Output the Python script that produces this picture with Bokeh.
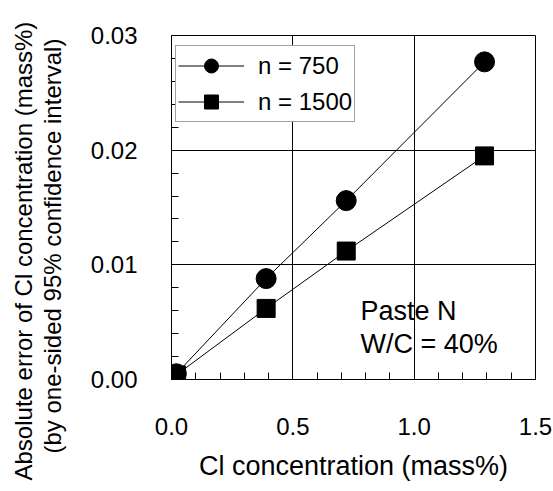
import numpy as np
from bokeh.plotting import figure
from bokeh.models import Range1d, FixedTicker, Label, Legend, LegendItem, Title
from bokeh.embed import file_html
from bokeh.resources import INLINE

# ---- data ----
cl_conc = [0.02, 0.39, 0.72, 1.29]
err_n750 = [0.0005, 0.0088, 0.0156, 0.0277]
err_n1500 = [0.0004, 0.0062, 0.0112, 0.0195]
series_labels = ["n = 750", "n = 1500"]

x_ticks = [0.0, 0.5, 1.0, 1.5]
x_tick_labels = ["0.0", "0.5", "1.0", "1.5"]
y_ticks = [0.0, 0.01, 0.02, 0.03]
y_tick_labels = ["0.00", "0.01", "0.02", "0.03"]

x_title = "Cl concentration (mass%)"
y_title_1 = "Absolute error of Cl  concentration (mass%)"
y_title_2 = "(by one-sided 95% confidence interval)"
note_1 = "Paste N"
note_2 = "W/C = 40%"

FONT = "Liberation Sans"

p = figure(width=553, height=491, output_backend="svg", toolbar_location=None,
           x_range=Range1d(0, 1.5), y_range=Range1d(0, 0.03),
           min_border_left=171, min_border_right=18, min_border_top=35,
           min_border_bottom=112)
p.background_fill_color = "white"
p.border_fill_color = "white"
p.outline_line_color = "black"
p.outline_line_width = 1
p.outline_line_alpha = 1

x_minor = list(np.round(np.arange(0, 1.5001, 0.1), 4))
y_minor = list(np.round(np.arange(0, 0.03001, 0.002), 5))
p.xaxis.ticker = FixedTicker(ticks=x_ticks, minor_ticks=x_minor)
p.yaxis.ticker = FixedTicker(ticks=y_ticks, minor_ticks=y_minor)
p.xaxis.major_label_overrides = {t: l for t, l in zip(x_ticks, x_tick_labels)}
p.yaxis.major_label_overrides = {t: l for t, l in zip(y_ticks, y_tick_labels)}

for ax in (p.xaxis[0], p.yaxis[0]):
    ax.axis_line_color = "black"
    ax.axis_line_width = 1
    ax.major_tick_in = 7
    ax.major_tick_out = 0
    ax.minor_tick_in = 7
    ax.minor_tick_out = 0
    ax.major_tick_line_color = "black"
    ax.minor_tick_line_color = "black"
    ax.major_label_text_font = FONT
    ax.major_label_text_font_size = "24px"
    ax.major_label_text_color = "black"

p.xaxis.major_label_standoff = 38
p.yaxis.major_label_standoff = 34
p.xaxis.axis_label = x_title
p.xaxis.axis_label_text_font = FONT
p.xaxis.axis_label_text_font_size = "27px"
p.xaxis.axis_label_text_font_style = "normal"
p.xaxis.axis_label_text_color = "black"
p.xaxis.axis_label_standoff = 13

# spacer so the y-axis panel reaches the title lines
p.yaxis.axis_label = " "
p.yaxis.axis_label_text_font_size = "10px"
p.yaxis.axis_label_standoff = 8

p.xgrid.ticker = FixedTicker(ticks=x_ticks)
p.ygrid.ticker = FixedTicker(ticks=y_ticks)
p.grid.grid_line_color = "black"
p.grid.grid_line_alpha = 1
p.grid.grid_line_width = 1

l1 = p.line(cl_conc, err_n750, line_color="black", line_width=1)
m1 = p.scatter(cl_conc, err_n750, marker="circle", size=20,
               fill_color="black", line_color="black")
l2 = p.line(cl_conc, err_n1500, line_color="black", line_width=1)
m2 = p.scatter(cl_conc, err_n1500, marker="square", size=18,
               fill_color="black", line_color="black")

legend = Legend(items=[LegendItem(label=series_labels[0], renderers=[l1, m1]),
                       LegendItem(label=series_labels[1], renderers=[l2, m2])],
                location=(4, 257))
legend.border_line_color = "#444444"
legend.border_line_width = 1
legend.background_fill_color = "white"
legend.background_fill_alpha = 1
legend.label_text_font = FONT
legend.label_text_font_size = "24px"
legend.label_text_color = "black"
legend.glyph_width = 66
legend.glyph_height = 35
legend.label_height = 35
legend.padding = 2
legend.spacing = 1
legend.margin = 0
legend.label_standoff = 14
p.add_layout(legend)

# y-axis title: two lines stacked outward from the axis
for txt, off in ((y_title_2, -74), (y_title_1, -101)):
    p.add_layout(Title(text=txt, align="left", offset=off, standoff=0,
                       vertical_align="bottom", text_font=FONT,
                       text_font_size="24px", text_font_style="normal",
                       text_color="black"), "left")

# annotation
for txt, ys in ((note_1, 69), (note_2, 36)):
    p.add_layout(Label(x=189, y=ys, x_units="screen", y_units="screen",
                       text=txt, text_align="left", text_baseline="alphabetic",
                       text_font=FONT, text_font_size="27px", text_color="black"))

open("out.html", "w").write(file_html(p, INLINE))
